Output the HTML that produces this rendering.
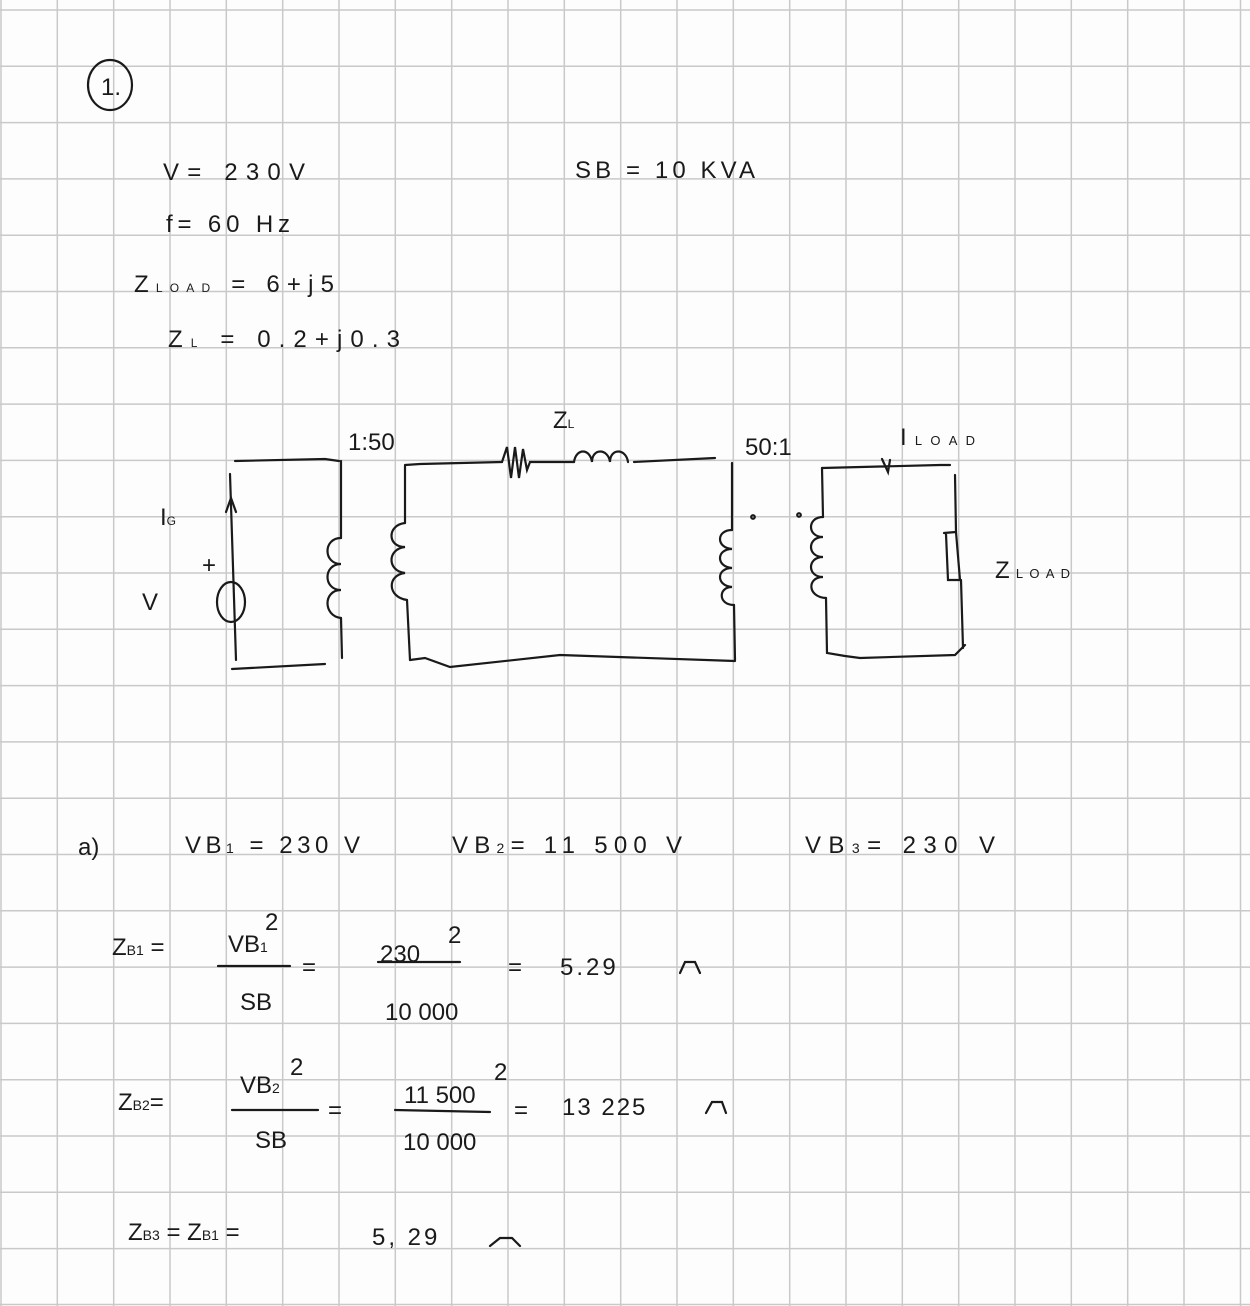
<!DOCTYPE html>
<html><head><meta charset="utf-8"><style>
html,body{margin:0;padding:0;background:#fdfdfd}
svg{display:block}
text{font-family:"Liberation Sans",sans-serif;fill:#1a1a1a;font-size:24px}
</style></head><body>
<svg width="1250" height="1306" viewBox="0 0 1250 1306" xmlns="http://www.w3.org/2000/svg">
<rect width="1250" height="1306" fill="#fdfdfd"/>
<g stroke="#c9c9c9" stroke-width="1.5">
<line x1="1" y1="0" x2="1" y2="1306"/><line x1="57.3" y1="0" x2="57.3" y2="1306"/><line x1="113.7" y1="0" x2="113.7" y2="1306"/><line x1="170" y1="0" x2="170" y2="1306"/><line x1="226.3" y1="0" x2="226.3" y2="1306"/><line x1="282.7" y1="0" x2="282.7" y2="1306"/><line x1="339" y1="0" x2="339" y2="1306"/><line x1="395.3" y1="0" x2="395.3" y2="1306"/><line x1="451.7" y1="0" x2="451.7" y2="1306"/><line x1="508" y1="0" x2="508" y2="1306"/><line x1="564.3" y1="0" x2="564.3" y2="1306"/><line x1="620.7" y1="0" x2="620.7" y2="1306"/><line x1="677" y1="0" x2="677" y2="1306"/><line x1="733.3" y1="0" x2="733.3" y2="1306"/><line x1="789.7" y1="0" x2="789.7" y2="1306"/><line x1="846" y1="0" x2="846" y2="1306"/><line x1="902.3" y1="0" x2="902.3" y2="1306"/><line x1="958.7" y1="0" x2="958.7" y2="1306"/><line x1="1015" y1="0" x2="1015" y2="1306"/><line x1="1071.3" y1="0" x2="1071.3" y2="1306"/><line x1="1127.7" y1="0" x2="1127.7" y2="1306"/><line x1="1184" y1="0" x2="1184" y2="1306"/><line x1="1240.5" y1="0" x2="1240.5" y2="1306"/>
<line y1="10" x1="0" y2="10" x2="1250"/><line y1="66.3" x1="0" y2="66.3" x2="1250"/><line y1="122.6" x1="0" y2="122.6" x2="1250"/><line y1="178.9" x1="0" y2="178.9" x2="1250"/><line y1="235.2" x1="0" y2="235.2" x2="1250"/><line y1="291.5" x1="0" y2="291.5" x2="1250"/><line y1="347.8" x1="0" y2="347.8" x2="1250"/><line y1="404.1" x1="0" y2="404.1" x2="1250"/><line y1="460.4" x1="0" y2="460.4" x2="1250"/><line y1="516.7" x1="0" y2="516.7" x2="1250"/><line y1="573" x1="0" y2="573" x2="1250"/><line y1="629.3" x1="0" y2="629.3" x2="1250"/><line y1="685.6" x1="0" y2="685.6" x2="1250"/><line y1="741.9" x1="0" y2="741.9" x2="1250"/><line y1="798.2" x1="0" y2="798.2" x2="1250"/><line y1="854.5" x1="0" y2="854.5" x2="1250"/><line y1="910.8" x1="0" y2="910.8" x2="1250"/><line y1="967.1" x1="0" y2="967.1" x2="1250"/><line y1="1023.4" x1="0" y2="1023.4" x2="1250"/><line y1="1079.7" x1="0" y2="1079.7" x2="1250"/><line y1="1136" x1="0" y2="1136" x2="1250"/><line y1="1192.3" x1="0" y2="1192.3" x2="1250"/><line y1="1248.6" x1="0" y2="1248.6" x2="1250"/><line y1="1304.5" x1="0" y2="1304.5" x2="1250"/>
</g>
<g fill="none" stroke="#1a1a1a" stroke-width="2.2" stroke-linecap="round">
<ellipse cx="110" cy="85" rx="22" ry="25"/>
<path d="M235 461 L325 459 L339 461"/>
<path d="M230 474 L236 660"/>
<ellipse cx="231" cy="602" rx="14" ry="20"/>
<path d="M226 512 L231 498 L236 512"/>
<path d="M232 669 L325 664"/>
<path d="M341 461 L341 538 M341 618 L342 658"/>
<path d="M341 538 c-18 0 -18 26 0 26 c-18 0 -18 26 0 26 c-18 0 -18 26 0 28"/>
<path d="M405 465 L420 464 L502 462 M530 462 L574 462 M634 462 L715 458"/>
<path d="M502 462 L507 447 L511 478 L515 447 L519 478 L523 449 L527 470 L530 462"/>
<path d="M574 462 c2 -14 16 -14 18 0 c0 -14 16 -14 18 0 c0 -14 16 -14 18 0"/>
<path d="M405 466 L405 523 M407 600 L410 660"/>
<path d="M405 523 c-18 2 -18 24 0 24 c-18 2 -18 24 0 26 c-18 2 -18 24 2 27"/>
<path d="M410 660 L425 658 L450 667 L560 655 L735 661"/>
<path d="M732 463 L732 530 M734 605 L735 660"/>
<path d="M732 530 c-16 0 -16 18 0 19 c-16 0 -16 18 0 19 c-16 0 -16 18 0 19 c-14 0 -14 18 2 18"/>
<path d="M822 468 L940 465 L950 465 M882 459 L888 472 L890 460"/>
<path d="M822 468 L823 517 M826 598 L827 653 L845 656 L860 658 L955 655 L965 645"/>
<path d="M823 517 c-16 0 -16 20 0 20 c-16 0 -16 20 0 20 c-16 0 -16 20 0 20 c-16 0 -16 20 3 21"/>
<path d="M955 475 L956 532 M961 580 L963 648"/>
<path d="M944 533 L956 532 L960 580 L948 580 L946 534"/>
<circle cx="753" cy="517" r="1.8"/><circle cx="799" cy="515" r="1.8"/>
<path d="M218 966 L290 966 M378 962 L460 962 M232 1110 L318 1110 M395 1110 L490 1112"/>
<path d="M680 973 L685 962 L695 962 L700 973 M490 1246 L500 1238 L512 1238 L520 1246 M706 1113 L712 1102 L722 1102 L726 1113"/>
</g>
<text x="101" y="95" font-size="24">1.</text>
<text x="163" y="180" font-size="28" textLength="142" lengthAdjust="spacing">V= 230V</text>
<text x="166" y="232" textLength="124" lengthAdjust="spacing">f= 60 Hz</text>
<text x="134" y="292" textLength="200" lengthAdjust="spacing">Z<tspan font-size="12">LOAD</tspan>  =  6+j5</text>
<text x="168" y="347" textLength="232" lengthAdjust="spacing">Z<tspan font-size="12">L</tspan>  =  0.2+j0.3</text>
<text x="575" y="178" textLength="180" lengthAdjust="spacing">SB = 10 KVA</text>
<text x="348" y="450" font-size="16">1:50</text>
<text x="553" y="428" font-size="20">Z<tspan font-size="12">L</tspan></text>
<text x="745" y="455" font-size="16">50:1</text>
<text x="900" y="445" font-size="18" textLength="75" lengthAdjust="spacing">I<tspan font-size="13">LOAD</tspan></text>
<text x="995" y="578" font-size="20" textLength="75" lengthAdjust="spacing">Z<tspan font-size="13">LOAD</tspan></text>
<text x="160" y="525" font-size="18">I<tspan font-size="12">G</tspan></text>
<text x="202" y="573" font-size="16">+</text>
<text x="142" y="610" font-size="20">V</text>
<text x="78" y="855">a)</text>
<text x="185" y="853" textLength="175" lengthAdjust="spacing">VB<tspan font-size="14">1</tspan> = 230 V</text>
<text x="452" y="853" textLength="230" lengthAdjust="spacing">VB<tspan font-size="14">2</tspan>=   11 500 V</text>
<text x="805" y="853" textLength="190" lengthAdjust="spacing">VB<tspan font-size="14">3</tspan>= 230  V</text>
<text x="112" y="955">Z<tspan font-size="14">B1</tspan> =</text>
<text x="228" y="952">VB<tspan font-size="14">1</tspan></text>
<text x="265" y="930" font-size="18">2</text>
<text x="240" y="1010">SB</text>
<text x="302" y="975">=</text>
<text x="380" y="962" font-size="20">230</text>
<text x="448" y="943" font-size="18">2</text>
<text x="385" y="1020" font-size="20">10 000</text>
<text x="508" y="975">=</text>
<text x="560" y="975" letter-spacing="3">5.29</text>
<text x="118" y="1110">Z<tspan font-size="14">B2</tspan>=</text>
<text x="240" y="1093">VB<tspan font-size="14">2</tspan></text>
<text x="290" y="1075">2</text>
<text x="255" y="1148">SB</text>
<text x="328" y="1118">=</text>
<text x="404" y="1103" font-size="22">11 500</text>
<text x="494" y="1080" font-size="16">2</text>
<text x="403" y="1150" font-size="20">10  000</text>
<text x="514" y="1118">=</text>
<text x="562" y="1115" font-size="20" letter-spacing="2">13 225</text>
<text x="128" y="1240">Z<tspan font-size="14">B3</tspan> =  Z<tspan font-size="14">B1</tspan> =</text>
<text x="372" y="1245" letter-spacing="3">5, 29</text>
</svg>
</body></html>
